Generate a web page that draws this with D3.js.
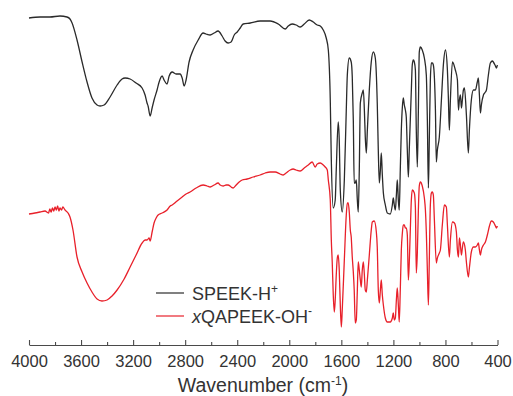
<!DOCTYPE html>
<html>
<head>
<meta charset="utf-8">
<script src="https://cdn.jsdelivr.net/npm/d3@7"></script>
<style>
  body { margin: 0; background: #fff; }
  svg { display: block; font-family: "Liberation Sans", Arial, sans-serif; }
  .axis path, .axis line { stroke: #4a4a4a; stroke-width: 1.1; }
  .axis text { font-size: 16.5px; fill: #333; }
</style>
</head>
<body>
<div id="content"></div>
<script>
// wavenumber (cm-1) and transmittance (a.u., offset) for each spectrum
const speekWn = [4000,3915,3839,3762,3708,3685,3669,3631,3592,3554,3516,3477,3454,3423,3377,3323,3285,3262,3223,3177,3131,3108,3093,3085,3069,3054,3039,3016,3000,2977,2962,2939,2923,2900,2870,2839,2823,2808,2793,2770,2739,2700,2662,2639,2608,2577,2547,2516,2493,2470,2447,2423,2400,2377,2354,2300,2224,2147,2085,2031,2008,1978,1947,1916,1885,1847,1816,1785,1762,1739,1716,1700,1685,1677,1662,1647,1639,1624,1616,1608,1593,1577,1562,1554,1539,1524,1516,1508,1501,1493,1485,1477,1470,1462,1454,1439,1431,1423,1416,1408,1400,1385,1370,1354,1339,1324,1316,1308,1300,1293,1285,1277,1262,1247,1224,1208,1201,1193,1185,1177,1170,1162,1155,1147,1139,1131,1124,1116,1108,1101,1093,1085,1078,1062,1055,1047,1039,1031,1024,1016,1008,1001,993,978,962,947,939,931,924,916,908,901,893,877,870,862,847,831,816,800,785,777,770,762,746,724,708,700,693,685,677,670,662,654,639,624,616,601,585,570,555,547,539,531,524,508,493,485,470,455,439,432,416,408,401];
const speekT = [327,328,328,329,328,326,322,305,283,263,247,240,239,240,248,260,266,267,266,262,257,250,242,239,229,237,245,255,263,269,265,261,269,273,271,271,267,259,265,283,295,305,312,311,310,312,314,309,304,302,303,310,313,317,321,322,324,324,321,316,319,321,320,318,321,325,323,320,319,315,307,295,245,185,137,145,175,223,205,155,133,165,235,270,287,283,268,225,162,162,165,145,133,175,242,252,255,235,208,192,215,255,283,293,287,242,195,162,175,192,170,152,140,132,131,140,147,140,135,150,165,145,135,175,215,238,247,240,235,228,195,168,195,255,280,285,283,275,215,178,235,293,298,295,287,270,225,157,205,265,282,282,280,235,183,195,208,245,280,295,275,245,215,245,283,275,265,235,245,250,237,245,255,257,230,192,215,245,255,255,263,267,250,232,240,250,253,255,270,282,284,283,279,277,280];

const qapeekWn = [4000,3954,3915,3877,3850,3840,3830,3820,3810,3800,3790,3780,3770,3762,3750,3740,3723,3700,3685,3662,3631,3592,3554,3516,3477,3439,3400,3362,3323,3269,3223,3177,3131,3108,3093,3077,3069,3054,3039,3023,3008,2977,2939,2915,2900,2862,2823,2793,2762,2716,2662,2631,2608,2577,2547,2531,2508,2485,2470,2447,2431,2408,2385,2362,2324,2277,2224,2185,2147,2108,2070,2047,2024,1993,1970,1947,1916,1885,1854,1824,1801,1785,1762,1739,1724,1708,1700,1685,1677,1670,1662,1654,1647,1639,1631,1624,1616,1608,1600,1593,1577,1562,1554,1547,1539,1531,1524,1516,1508,1501,1493,1485,1477,1470,1462,1454,1447,1439,1431,1423,1416,1408,1400,1385,1370,1362,1347,1331,1324,1316,1308,1300,1293,1285,1277,1262,1247,1224,1208,1201,1193,1185,1177,1170,1162,1155,1147,1139,1131,1124,1116,1108,1101,1093,1085,1078,1070,1062,1055,1039,1031,1024,1016,1008,1001,993,978,962,954,947,939,931,924,916,908,901,893,885,870,862,847,839,824,808,793,785,770,762,746,731,716,708,700,693,685,677,670,662,647,639,624,616,601,585,570,555,547,539,531,524,508,493,478,462,447,432,416,408,401];
const qapeekT = [131,132,133,134,132,136,133,137,134,138,135,139,134,137,135,138,135,132,128,115,88,73,62,53,46,44,45,49,55,66,78,90,102,105,105,107,104,113,122,127,130,132,135,139,140,144,148,151,153,157,160,159,158,160,162,160,159,160,160,158,157,160,163,165,166,168,170,172,173,173,171,170,172,175,176,175,174,177,180,183,178,181,182,180,178,175,165,145,105,83,50,33,45,70,87,90,75,40,18,35,85,130,142,142,133,115,108,88,73,55,22,25,55,83,75,65,58,75,83,70,55,53,65,90,115,123,124,113,98,55,42,55,65,50,40,27,23,23,27,32,25,27,45,57,40,23,55,95,112,120,120,117,117,110,65,82,115,145,155,152,138,72,92,135,159,163,159,147,135,113,75,40,85,140,152,153,150,125,82,87,92,95,120,140,138,120,88,105,123,122,113,95,88,107,100,90,97,103,95,83,68,77,93,98,98,100,102,95,90,95,100,103,110,119,124,123,119,117,119];

const seriesColors = ['#2a2a2a', '#e8202a'];
const majorTicks = [4000,3600,3200,2800,2400,2000,1600,1200,800,400];
const minorTicks = [3800,3400,3000,2600,2200,1800,1400,1000,600];

var width = 513;
var height = 396;
var axisY = 345;

var svg = d3.select('#content')
  .append('svg')
  .attr('width', width)
  .attr('height', height);

var xScale = d3.scaleLinear()
  .domain([4000, 400])
  .range([29, 497.5]);

var yScale = d3.scaleLinear()
  .domain([0, 345])
  .range([axisY, 0]);

var line = d3.line()
  .x(function (d) {return xScale(d[0])})
  .y(function (d) {return yScale(d[1])})
  .curve(d3.curveMonotoneX);

var speek = speekWn.map(function (w, i) {return [w, speekT[i]]});
var qapeek = qapeekWn.map(function (w, i) {return [w, qapeekT[i]]});

svg.append('path')
  .datum(qapeek)
  .attr('fill', 'none')
  .attr('stroke', seriesColors[1])
  .attr('stroke-width', 1.3)
  .attr('d', line);

svg.append('path')
  .datum(speek)
  .attr('fill', 'none')
  .attr('stroke', seriesColors[0])
  .attr('stroke-width', 1.3)
  .attr('d', line);

// axis, ticks pointing inward
svg.append('g')
  .attr('class', 'axis')
  .attr('transform', 'translate(0,' + axisY + ')')
  .call(d3.axisBottom(xScale)
    .tickValues(majorTicks)
    .tickSizeInner(-5)
    .tickSizeOuter(0)
    .tickPadding(10)
    .tickFormat(d3.format('d')));

svg.append('g')
  .attr('class', 'axis')
  .attr('transform', 'translate(0,' + axisY + ')')
  .call(d3.axisBottom(xScale)
    .tickValues(minorTicks)
    .tickSizeInner(-3)
    .tickSizeOuter(0)
    .tickFormat(''))
  .select('.domain').remove();

var title = svg.append('text')
  .attr('x', 263)
  .attr('y', 392)
  .attr('text-anchor', 'middle')
  .attr('fill', '#333')
  .style('font-size', '19.5px');
title.append('tspan').text('Wavenumber (cm');
title.append('tspan').attr('dy', -7).style('font-size', '12px').text('-1');
title.append('tspan').attr('dy', 7).text(')');

// legend
var legend = svg.append('g').attr('transform', 'translate(156,293)');
legend.selectAll('line')
  .data(seriesColors)
  .enter()
  .append('line')
  .attr('x1', 0)
  .attr('x2', 28)
  .attr('y1', function (c, i) {return i * 23})
  .attr('y2', function (c, i) {return i * 23})
  .attr('stroke', function (c) {return c})
  .attr('stroke-width', 1.2);

var t1 = legend.append('text')
  .attr('x', 36).attr('y', 7)
  .attr('fill', '#333')
  .style('font-size', '18px');
t1.append('tspan').text('SPEEK-H');
t1.append('tspan').attr('dy', -7).style('font-size', '12px').text('+');

var t2 = legend.append('text')
  .attr('x', 36).attr('y', 30)
  .attr('fill', '#333')
  .style('font-size', '18px');
t2.append('tspan').style('font-style', 'italic').text('x');
t2.append('tspan').text('QAPEEK-OH');
t2.append('tspan').attr('dy', -8).style('font-size', '12px').text('-');
</script>
</body>
</html>
